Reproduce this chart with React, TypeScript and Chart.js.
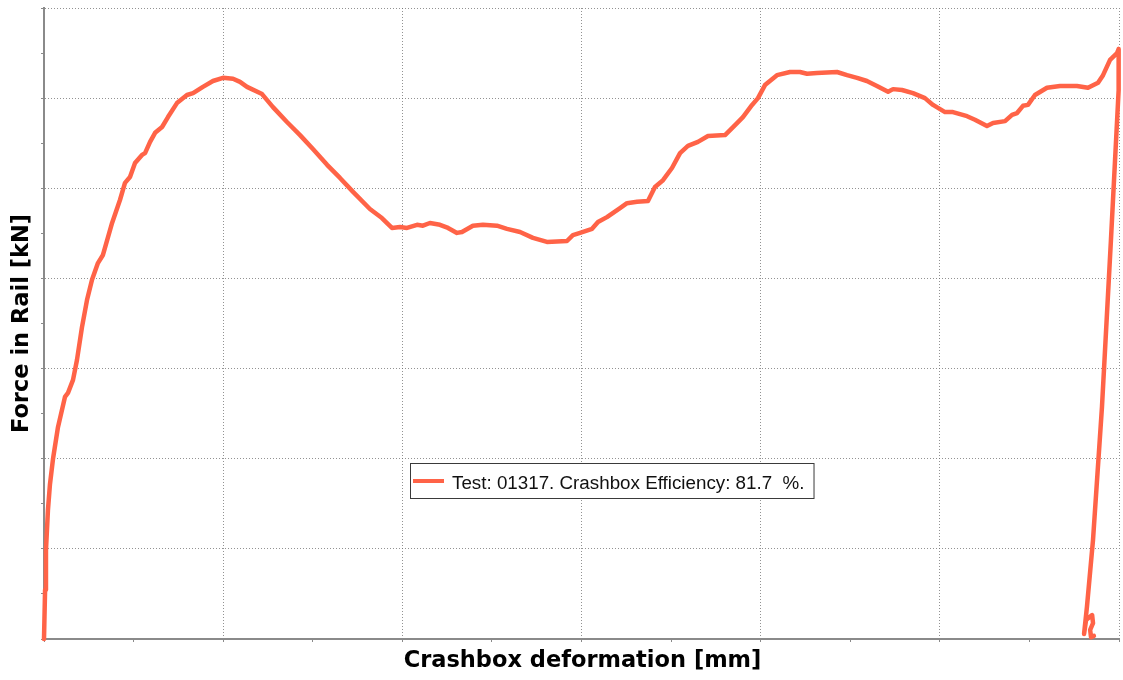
import React, { useEffect, useRef } from "react";
import { Chart, registerables } from "chart.js";

Chart.register(...registerables);

const xTitle = "Crashbox deformation [mm]";
const yTitle = "Force in Rail [kN]";
const legendLabel = "Test: 01317. Crashbox Efficiency: 81.7  %.";

// Crashbox deformation [mm]
const deformation: number[] = [
  0, 0.06, 0.11, 0.22, 0.33, 0.5, 0.78, 1.17, 1.34, 1.62,
  1.84, 2.12, 2.4, 2.68, 3.01, 3.29, 3.8, 4.24, 4.52, 4.8,
  5.08, 5.47, 5.64, 5.92, 6.2, 6.59, 6.92, 7.42, 7.98, 8.32,
  8.87, 9.43, 9.99, 10.55, 10.94, 11.33, 12.17, 12.78, 13.56, 14.29,
  15.01, 15.8, 16.52, 17.25, 18.19, 18.86, 19.42, 19.87, 20.26, 20.82,
  21.15, 21.54, 22.1, 22.55, 23.05, 23.33, 23.94, 24.5, 25.28, 25.84,
  26.57, 27.29, 28.07, 29.19, 29.52, 29.92, 30.59, 30.92, 31.42, 32.15,
  32.54, 33.1, 33.71, 34.1, 34.55, 35.05, 35.5, 35.94, 36.5, 37.06,
  38.01, 38.57, 39.01, 39.52, 39.85, 40.24, 40.91, 41.64, 42.19, 42.59,
  43.14, 44.26, 44.82, 45.38, 45.93, 46.49, 47.11, 47.39, 47.89, 48.5,
  49.17, 49.62, 50.29, 50.73, 51.52, 51.96, 52.63, 52.97, 53.64, 54.03,
  54.31, 54.64, 54.92, 55.31, 55.98, 56.71, 57.65, 58.27, 58.83, 59.11,
  59.5, 59.89, 59.98, 59.98, 59.55, 59.05, 58.55, 58.21, 58.05, 58.16,
  58.5, 58.55, 58.39, 58.44, 58.6,
];

// Force in Rail [kN]
const force: number[] = [
  0, 10.9, 19.7, 28.6, 34.2, 39.9, 47.0, 53.7, 54.6, 57.5,
  61.9, 69.2, 75.2, 79.7, 83.4, 85.2, 92.3, 97.4, 101.2, 102.5,
  105.6, 107.4, 107.8, 110.3, 112.3, 113.6, 115.8, 118.9, 120.7, 121.1,
  122.5, 123.8, 124.5, 124.3, 123.6, 122.5, 120.9, 118.0, 114.7, 111.8,
  108.7, 105.2, 102.3, 99.2, 95.4, 93.4, 91.2, 91.4, 91.2, 91.9,
  91.7, 92.3, 91.9, 91.2, 90.1, 90.3, 91.7, 91.9, 91.7, 91.0,
  90.3, 89.0, 88.1, 88.3, 89.6, 90.1, 91.0, 92.5, 93.6, 95.6,
  96.7, 97.0, 97.2, 100.3, 101.8, 104.5, 107.8, 109.4, 110.3, 111.6,
  111.8, 114.0, 115.8, 118.5, 120.0, 122.9, 125.1, 125.8, 125.8, 125.4,
  125.6, 125.8, 125.1, 124.5, 123.8, 122.7, 121.4, 122.0, 121.8, 121.1,
  120.0, 118.5, 116.9, 116.9, 116.0, 115.2, 113.8, 114.5, 114.9, 116.3,
  116.7, 118.3, 118.5, 120.7, 122.3, 122.7, 122.7, 122.3, 123.4, 125.1,
  128.5, 130.0, 130.9, 121.8, 88.5, 51.5, 22.0, 7.1, 1.1, 4.2,
  5.3, 3.5, 2.0, 0.4, 0.7,
];

const X_MIN = 0;
const X_MAX = 60;
const X_STEP = 5;
const Y_MIN = 0;
const Y_MAX = 140;
const Y_STEP = 10;

const LINE_COLOR = "#ff6347";
const GRID_COLOR = "rgba(110,110,110,0.75)";
const AXIS_COLOR = "#8a8a8a";

const overlayPlugin = {
  id: "overlay",
  afterDraw(chart: any) {
    const { ctx, chartArea } = chart;
    ctx.save();
    // axis titles
    ctx.fillStyle = "#000";
    ctx.font = "bold 22.5px 'DejaVu Sans'";
    ctx.textAlign = "center";
    ctx.textBaseline = "middle";
    ctx.fillText(xTitle, (chartArea.left + chartArea.right) / 2 + 1, 661);
    ctx.save();
    ctx.translate(22, (chartArea.top + chartArea.bottom) / 2);
    ctx.rotate(-Math.PI / 2);
    ctx.fillText(yTitle, 0, 0);
    ctx.restore();

    // legend box
    ctx.font = "18.8px 'Liberation Sans'";
    const tw = ctx.measureText(legendLabel).width;
    const bx = 410;
    const by = 463.5;
    const bh = 35;
    const textX = bx + 42;
    const bw = textX - bx + tw + 9;
    ctx.fillStyle = "#fff";
    ctx.fillRect(bx, by, bw, bh);
    ctx.strokeStyle = "#3a3a3a";
    ctx.lineWidth = 1;
    ctx.strokeRect(bx + 0.5, by, bw, bh);
    ctx.strokeStyle = LINE_COLOR;
    ctx.lineWidth = 4;
    ctx.beginPath();
    ctx.moveTo(bx + 3, by + bh / 2);
    ctx.lineTo(bx + 34, by + bh / 2);
    ctx.stroke();
    ctx.fillStyle = "#111";
    ctx.textAlign = "left";
    ctx.textBaseline = "alphabetic";
    ctx.fillText(legendLabel, textX, by + 25);
    ctx.restore();
  },
};

export default function App() {
  const canvasRef = useRef<HTMLCanvasElement | null>(null);

  useEffect(() => {
    document.body.style.margin = "0";
    const canvas = canvasRef.current;
    if (!canvas) return;
    const points = deformation.map((x, i) => ({ x, y: force[i] }));

    const chart = new Chart(canvas, {
      type: "line",
      data: {
        datasets: [
          {
            label: legendLabel,
            data: points,
            borderColor: LINE_COLOR,
            backgroundColor: LINE_COLOR,
            borderWidth: 4.5,
            pointRadius: 0,
            tension: 0,
            borderJoinStyle: "round",
            borderCapStyle: "round",
            clip: false,
          } as any,
        ],
      },
      options: {
        animation: false,
        responsive: false,
        parsing: true,
        layout: { padding: { top: 8, right: 4, left: 0, bottom: 0 } },
        plugins: {
          legend: { display: false },
          tooltip: { enabled: false },
          title: { display: false },
        },
        scales: {
          x: {
            type: "linear",
            min: X_MIN,
            max: X_MAX,
            ticks: { display: false, stepSize: X_STEP },
            grid: {
              color: (c: any) =>
                c.tick && c.tick.value % 10 === 0 ? GRID_COLOR : "rgba(0,0,0,0)",
              lineWidth: 1,
              drawTicks: true,
              tickLength: 3,
              tickColor: AXIS_COLOR,
            },
            border: { display: true, color: AXIS_COLOR, width: 2, dash: [1, 2] },
            afterFit: (scale: any) => {
              scale.height = 41;
            },
          },
          y: {
            type: "linear",
            min: Y_MIN,
            max: Y_MAX,
            ticks: { display: false, stepSize: Y_STEP },
            grid: {
              color: (c: any) =>
                c.tick && c.tick.value % 20 === 0 ? GRID_COLOR : "rgba(0,0,0,0)",
              lineWidth: 1,
              drawTicks: true,
              tickLength: 3,
              tickColor: AXIS_COLOR,
            },
            border: { display: true, color: AXIS_COLOR, width: 2, dash: [1, 2] },
            afterFit: (scale: any) => {
              scale.width = 44;
            },
          },
        },
      },
      plugins: [overlayPlugin],
    });
    return () => chart.destroy();
  }, []);

  return (
    <div style={{ position: "absolute", left: 0, top: 0, width: 1123, height: 680, background: "#fff" }}>
      <canvas ref={canvasRef} width={1123} height={680} style={{ display: "block" }} />
    </div>
  );
}
